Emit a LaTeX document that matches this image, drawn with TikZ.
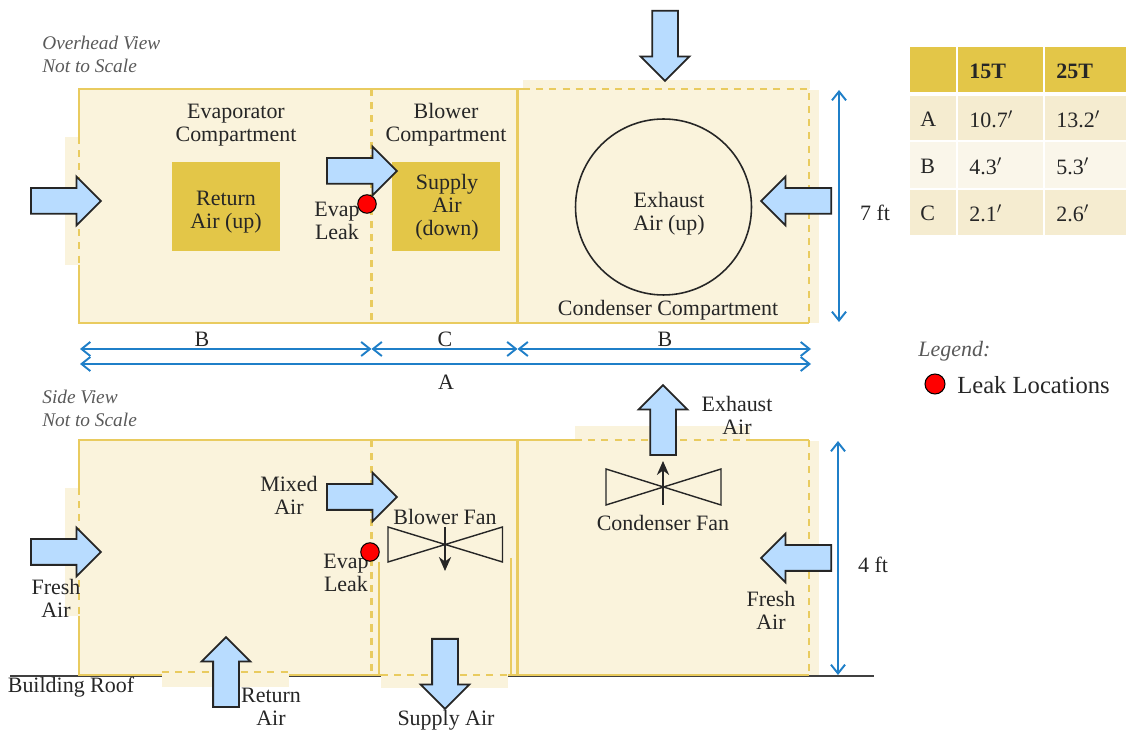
\documentclass[tikz,border=0pt]{standalone}
\usepackage{fontspec}
\setmainfont{Liberation Serif}
\usetikzlibrary{shapes.arrows,arrows.meta,positioning}
\definecolor{shell}{HTML}{FAF3DC}
\definecolor{wall}{HTML}{E9CB5F}
\definecolor{duct}{HTML}{E3C648}
\definecolor{airblue}{HTML}{B8DCFF}
\definecolor{dimblue}{HTML}{1F7FC8}
\definecolor{rowdark}{HTML}{F5ECD0}
\definecolor{rowlight}{HTML}{FAF6EA}
\definecolor{inktext}{HTML}{262626}
\tikzset{
    lbl/.style={text=inktext,align=center,inner sep=0pt,font=\fontsize{12.5}{13}\selectfont},
    note/.style={lbl,align=left,anchor=west,text=black!65,font=\fontsize{11}{13.2}\selectfont\itshape},
    airarrow/.style={draw=black!85,line width=1pt,fill=airblue,shape=single arrow,
        minimum width=.94cm,minimum height=1.4cm,single arrow head extend=.23cm,
        single arrow head indent=0pt,inner xsep=0pt,inner ysep=.24cm,anchor=tail},
    leak/.style={circle,draw=black,fill=red,line width=.6pt,minimum size=.37cm,inner sep=0pt},
    solidwall/.style={wall,line width=1.2pt},
    dashwall/.style={wall,line width=1.2pt,dash pattern=on 4pt off 3.5pt},
    dimline/.style={dimblue,line width=1.1pt,{Straight Barb[length=5pt,width=8pt]}-{Straight Barb[length=5pt,width=8pt]}},
    fanline/.style={black!85,line width=.8pt},
}

\begin{document}
\begin{tikzpicture}[x=.02cm,y=-.02cm]
    \useasboundingbox (0,0) rectangle (1126,732);

    % Overhead shell and tabs.
    \fill[shell] (79,89) rectangle (809,323);
    \fill[shell] (65,137) rectangle (79,265);
    \fill[shell] (523,80) rectangle (810,89);
    \fill[shell] (809,90) rectangle (819,323);

    % Overhead walls.
    \draw[solidwall] (79,137) -- (79,89) -- (523,89);
    \draw[solidwall] (79,265) -- (79,323) -- (809,323);
    \draw[solidwall] (517.5,89) -- (517.5,323);
    \draw[dashwall] (79,137) -- (79,265);
    \draw[dashwall] (371.5,89) -- (371.5,323);
    \draw[dashwall] (523,89) -- (809,89) -- (809,323);

    % Overhead ducts.
    \fill[duct] (172,162) rectangle (280,251);
    \fill[duct] (392,162) rectangle (500,251);
    \node[lbl] (retduct) at (226,212) {Return\\Air (up)};
    \node[lbl] (supduct) at (447,207) {Supply\\Air\\(down)};
    \node[lbl] (evapcomp) at (236,125) {Evaporator\\Compartment};
    \node[lbl] (blowcomp) at (446,125) {Blower\\Compartment};
    \node[lbl] (condcomp) at (668,310) {Condenser Compartment};
    \node[lbl] (evaptop) at (337,221) {Evap\\Leak};
    \node[leak] (leaktop) at (367,204) {};

    % Exhaust circle.
    \node[circle,draw=black!85,line width=.9pt,minimum size=3.52cm,inner sep=0pt] (exhcircle) at (663.5,207) {};
    \node[lbl] (exhtext) at (669,214) {Exhaust\\Air (up)};

    % Overhead air arrows.
    \node[airarrow] (airtopa) at (30,201) {};
    \node[airarrow] (airtopb) at (326,171) {};
    \node[airarrow,rotate=-90] (airtopc) at (665,10) {};
    \node[airarrow,rotate=180] (airtopd) at (832,201) {};

    % Dimensions.
    \coordinate (dima) at (80,349);
    \coordinate (dimb) at (371.5,349);
    \coordinate (dimc) at (517.5,349);
    \coordinate (dimd) at (811,349);
    \coordinate (dime) at (80,364);
    \coordinate (dimf) at (811,364);
    \draw[dimline] (dima) -- (dimb);
    \draw[dimline] (dimb) -- (dimc);
    \draw[dimline] (dimc) -- (dimd);
    \draw[dimline] (dime) -- (dimf);
    \node[lbl] (lblb) at (202,339) {B};
    \node[lbl] (lblc) at (445,339) {C};
    \node[lbl] (lblbb) at (665,339) {B};
    \node[lbl] (lbla) at (446,382) {A};
    \coordinate (dimg) at (839,90);
    \coordinate (dimh) at (839,322);
    \draw[dimline] (dimg) -- (dimh);
    \node[lbl] (lblseven) at (875,213) {7 ft};
    \coordinate (dimi) at (838,441);
    \coordinate (dimj) at (838,675);
    \draw[dimline] (dimi) -- (dimj);
    \node[lbl] (lblfour) at (873,565) {4 ft};

    % Titles.
    \node[note] (overtitle) at (42,54) {Overhead View\\Not to Scale};
    \node[note] (sidetitle) at (42,408) {Side View\\Not to Scale};

    % Size table.
    \fill[duct] (910,47) rectangle (956,92);
    \fill[duct] (958,47) rectangle (1043,92);
    \fill[duct] (1045,47) rectangle (1126,92);
    \foreach \ya/\yb/\c in {96/140/rowdark,142/188/rowlight,190/235/rowdark}{
        \fill[\c] (910,\ya) rectangle (956,\yb);
        \fill[\c] (958,\ya) rectangle (1043,\yb);
        \fill[\c] (1045,\ya) rectangle (1126,\yb);
    }
    \node[lbl,anchor=west,font=\fontsize{12.5}{13}\selectfont\bfseries] (headb) at (969,71) {15T};
    \node[lbl,anchor=west,font=\fontsize{12.5}{13}\selectfont\bfseries] (headc) at (1056,71) {25T};
    \foreach \n/\y/\k/\p/\q in {rowa/119/A/10.7/13.2,rowb/166/B/4.3/5.3,rowc/213/C/2.1/2.6}{
        \node[lbl,anchor=west] (\n k) at (920,\y) {\k};
        \node[lbl,anchor=west] (\n p) at (969,\y) {\p$'$};
        \node[lbl,anchor=west] (\n q) at (1056,\y) {\q$'$};
    }

    % Legend.
    \node[note,font=\fontsize{12.5}{13}\selectfont\itshape] (legendtitle) at (918,351) {Legend:};
    \node[leak,minimum size=.4cm] (legendleak) at (935,384) {};
    \node[lbl,anchor=west,font=\fontsize{14}{16}\selectfont] (legendtext) at (957,385) {Leak Locations};

    % Side shell and tabs.
    \fill[shell] (79,440) rectangle (809,675);
    \fill[shell] (65,488) rectangle (79,616);
    \fill[shell] (162,672) rectangle (289,687);
    \fill[shell] (381,675) rectangle (508,688);
    \fill[shell] (575,426) rectangle (750,440);
    \fill[shell] (809,441) rectangle (819,675);

    % Roof line.
    \coordinate (roofa) at (10,676);
    \coordinate (roofb) at (162,676);
    \coordinate (roofc) at (289,676);
    \coordinate (roofd) at (381,676);
    \coordinate (roofe) at (508,676);
    \coordinate (rooff) at (874,676);
    \draw[black!75,line width=.8pt] (roofa) -- (roofb) (roofc) -- (roofd) (roofe) -- (rooff);

    % Side walls.
    \draw[solidwall] (79,488) -- (79,440) -- (575,440);
    \draw[solidwall] (750,440) -- (809,440);
    \draw[solidwall] (79,616) -- (79,675) -- (162,675);
    \draw[solidwall] (289,675) -- (381,675);
    \draw[solidwall] (508,675) -- (809,675);
    \draw[solidwall] (517.5,440) -- (517.5,675);
    \draw[solidwall] (378.6,562) -- (378.6,675);
    \draw[solidwall] (511,558) -- (511,675);
    \draw[dashwall] (79,488) -- (79,616);
    \draw[dashwall] (371.5,440) -- (371.5,675);
    \draw[dashwall] (162,672) -- (289,672);
    \draw[dashwall] (381,675) -- (508,675);
    \draw[dashwall] (575,440) -- (750,440);
    \draw[dashwall] (809,440) -- (809,675);

    % Fans.
    \draw[fanline] (388,527) -- (502.5,562) -- (502.5,527) -- (388,562) -- cycle;
    \draw[fanline,-{Stealth[length=8pt,width=7pt]}] (445,527) -- (445,571);
    \draw[fanline] (606,469) -- (721,505) -- (721,469) -- (606,505) -- cycle;
    \draw[fanline,-{Stealth[length=8pt,width=7pt]}] (663,505) -- (663,461);

    % Side air arrows.
    \node[airarrow] (airsidea) at (30,552) {};
    \node[airarrow] (airsideb) at (326,497) {};
    \node[airarrow,rotate=90] (airsidec) at (226,708) {};
    \node[airarrow,rotate=-90] (airsided) at (445,638) {};
    \node[airarrow,rotate=90] (airsidee) at (663,456) {};
    \node[airarrow,rotate=180] (airsidef) at (832,558) {};

    % Side labels.
    \node[lbl] (freshl) at (56,598) {Fresh\\Air};
    \node[lbl] (mixed) at (289,495) {Mixed\\Air};
    \node[lbl] (evapside) at (346,573) {Evap\\Leak};
    \node[leak] (leakside) at (370,552) {};
    \node[lbl] (blowfan) at (445,517) {Blower Fan};
    \node[lbl] (returnair) at (271,707) {Return\\Air};
    \node[lbl] (supplyair) at (446,720) {Supply Air};
    \node[lbl] (roof) at (71,687) {Building Roof};
    \node[lbl] (exhaustair) at (737,415) {Exhaust\\Air};
    \node[lbl] (condfan) at (663,523) {Condenser Fan};
    \node[lbl] (freshr) at (771,610) {Fresh\\Air};

\end{tikzpicture}
\end{document}
